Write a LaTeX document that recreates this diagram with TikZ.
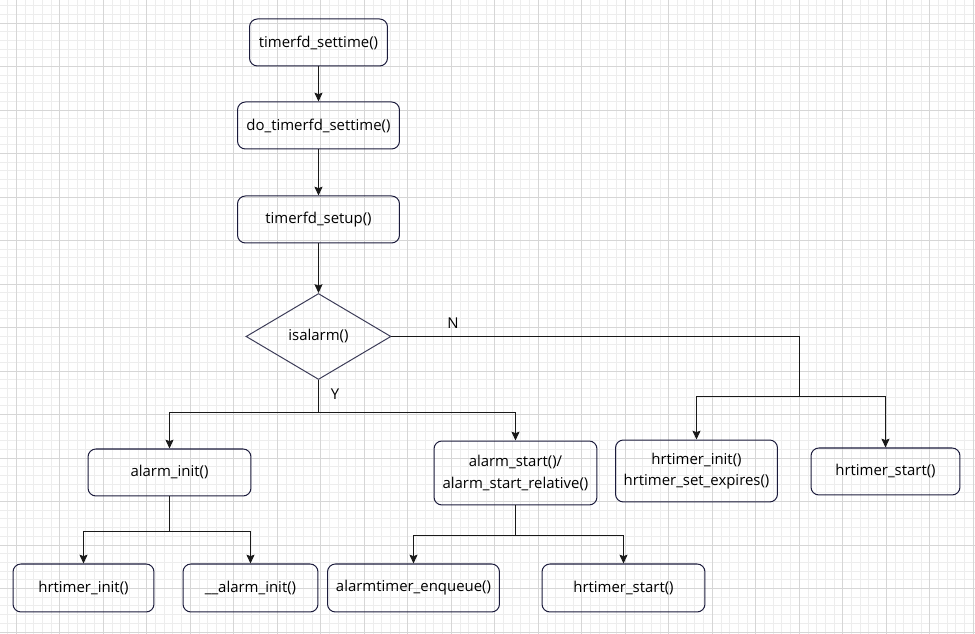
\documentclass[tikz,border=0pt]{standalone}
\usepackage{fontspec}
\setmainfont{Open Sans}
\usetikzlibrary{shapes.geometric, arrows.meta, calc}
\definecolor{boxline}{HTML}{1B1B3C}
\definecolor{gridminor}{HTML}{EDEDED}
\definecolor{gridmajor}{HTML}{D6D6D6}
\newcommand{\fn}{\fontsize{8.5}{12}\selectfont}

\begin{document}
\begin{tikzpicture}[
    x=0.02cm, y=-0.02cm,
    box/.style={draw=boxline, line width=0.57pt, rounded corners=4.5pt, align=center, font=\fn, inner sep=0pt},
    decide/.style={draw=boxline!85, line width=0.57pt, diamond, font=\fn, inner sep=0pt, minimum width=2.9cm, minimum height=1.72cm},
    arr/.style={-{Stealth[length=5pt, width=4.6pt, inset=0.8pt]}, line width=0.57pt, draw=black!90},
    lnk/.style={line width=0.57pt, draw=black!90},
    tag/.style={font=\fn, inner sep=0pt}
]
\useasboundingbox (0,0) rectangle (975,634);

% grid paper
\begin{scope}
\clip (0,0) rectangle (975,634);
\foreach \i in {-5,...,112} {
    \draw[gridminor, line width=0.5pt] ({16.3+8.7*\i},0) -- ({16.3+8.7*\i},634);
}
\foreach \i in {-5,...,72} {
    \draw[gridminor, line width=0.5pt] (0,{23+8.7*\i}) -- (975,{23+8.7*\i});
}
\foreach \i in {-1,...,22} {
    \draw[gridmajor, line width=0.5pt] ({16.3+43.5*\i},0) -- ({16.3+43.5*\i},634);
}
\foreach \i in {-1,...,14} {
    \draw[gridmajor, line width=0.5pt] (0,{23+43.5*\i}) -- (975,{23+43.5*\i});
}
\end{scope}

% main chain
\node[box, minimum width=2.76cm, minimum height=0.94cm] (settime) at (318.5,42.5) {timerfd\_settime()};
\node[box, minimum width=3.24cm, minimum height=0.94cm] (dosettime) at (318.5,125.5) {do\_timerfd\_settime()};
\node[box, minimum width=3.24cm, minimum height=0.94cm] (setup) at (318.5,219.5) {timerfd\_setup()};
\node[decide] (isalarm) at (318.5,336.5) {isalarm()};

% Y side
\node[box, minimum width=3.26cm, minimum height=0.94cm] (alarminit) at (169.5,472.5) {alarm\_init()};
\node[box, minimum width=3.26cm, minimum height=1.28cm] (alarmstart) at (515.5,473) {alarm\_start()/\\alarm\_start\_relative()};
\node[box, minimum width=2.82cm, minimum height=0.96cm] (hrinit) at (83.5,588) {hrtimer\_init()};
\node[box, minimum width=2.70cm, minimum height=0.96cm] (ualarminit) at (250.5,588) {\_\_alarm\_init()};
\node[box, minimum width=3.44cm, minimum height=0.96cm] (enqueue) at (413.5,588) {alarmtimer\_enqueue()};
\node[box, minimum width=3.26cm, minimum height=0.96cm] (hrstart) at (623.5,588) {hrtimer\_start()};

% N side
\node[box, minimum width=3.24cm, minimum height=1.24cm] (hrinitexp) at (696.5,471) {hrtimer\_init()\\hrtimer\_set\_expires()};
\node[box, minimum width=2.98cm, minimum height=0.94cm] (hrstartn) at (885.5,471.5) {hrtimer\_start()};

\coordinate (ysplit) at (318.5,412.5);
\coordinate (nsplit) at (799.5,396.5);
\coordinate (initsplit) at (169.5,531.5);
\coordinate (startsplit) at (515.5,535.5);

\draw[arr] (settime) -- (dosettime);
\draw[arr] (dosettime) -- (setup);
\draw[arr] (setup) -- (isalarm);

\draw[lnk] (isalarm.south) -- (ysplit);
\draw[arr] (ysplit) -| (alarminit);
\draw[arr] (ysplit) -| (alarmstart);
\node[tag] (ylabel) at (335,394) {Y};

\draw[lnk] (isalarm.east) -| (nsplit);
\draw[arr] (nsplit) -| (hrinitexp);
\draw[arr] (nsplit) -| (hrstartn);
\node[tag] (nlabel) at (453,323) {N};

\draw[lnk] (alarminit) -- (initsplit);
\draw[arr] (initsplit) -| (hrinit);
\draw[arr] (initsplit) -| (ualarminit);

\draw[lnk] (alarmstart) -- (startsplit);
\draw[arr] (startsplit) -| (enqueue);
\draw[arr] (startsplit) -| (hrstart);
\end{tikzpicture}
\end{document}
